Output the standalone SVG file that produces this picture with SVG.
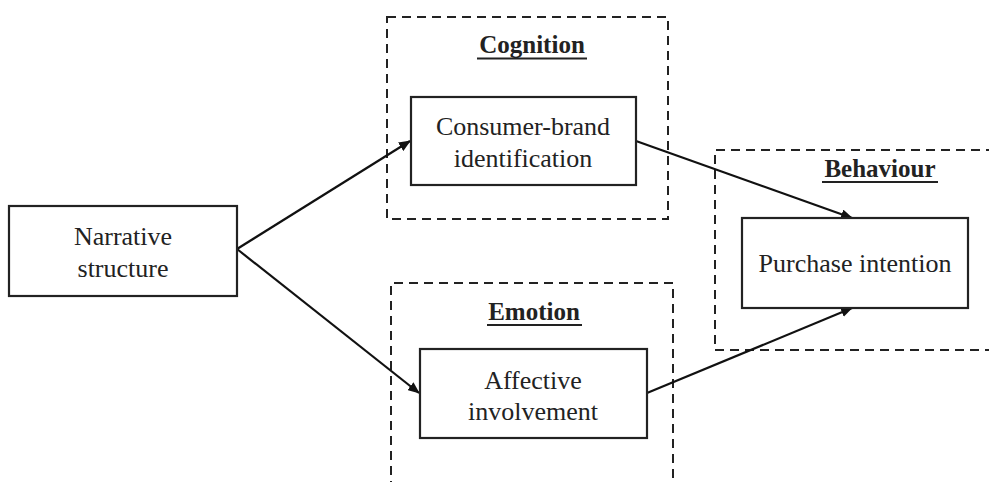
<svg xmlns="http://www.w3.org/2000/svg" width="989" height="482" viewBox="0 0 989 482">
<style>
.bg{fill:#fff}
.grp{fill:none;stroke:#222;stroke-width:2;stroke-dasharray:9,6}
.box{fill:#fff;stroke:#222;stroke-width:2.2}
.t{font-family:"Liberation Serif","Times New Roman",serif;font-size:26px;fill:#222;text-anchor:middle}
.h{font-family:"Liberation Serif","Times New Roman",serif;font-size:25px;font-weight:bold;fill:#222;text-anchor:middle}
.ul{stroke:#222;stroke-width:1.8}
.c{fill:none;stroke:#111;stroke-width:2.2;marker-end:url(#ah)}
</style>
<defs>
<marker id="ah" viewBox="0 0 12 10" refX="11" refY="5" markerWidth="12" markerHeight="10" markerUnits="userSpaceOnUse" orient="auto">
<path d="M0,0 L12,5 L0,10 z" fill="#111"/>
</marker>
</defs>
<rect class="bg" x="0" y="0" width="989" height="482"/>
<g id="cognition">
<rect class="grp" x="387" y="17" width="281" height="202"/>
<text class="h" x="532" y="53">Cognition</text>
<line class="ul" x1="477" y1="58.5" x2="587" y2="58.5"/>
</g>
<g id="behaviour">
<path class="grp" d="M995,150 L715,150 L715,350 L995,350"/>
<text class="h" x="880" y="177">Behaviour</text>
<line class="ul" x1="822" y1="182" x2="938" y2="182"/>
</g>
<g id="emotion">
<path class="grp" d="M391,490 L391,283 L673,283 L673,490"/>
<text class="h" x="534" y="320">Emotion</text>
<line class="ul" x1="487" y1="325" x2="582" y2="325"/>
</g>
<g id="connectors">
<line class="c" x1="237" y1="249" x2="410" y2="141"/>
<line class="c" x1="237" y1="249" x2="419" y2="393"/>
<line class="c" x1="636" y1="141" x2="852" y2="218"/>
<line class="c" x1="647" y1="393" x2="852" y2="308"/>
</g>
<g id="narrative">
<rect class="box" x="9" y="206" width="228" height="90"/>
<text class="t" x="123" y="245">Narrative</text>
<text class="t" x="123" y="277">structure</text>
</g>
<g id="consumer-brand">
<rect class="box" x="411" y="97" width="225" height="88"/>
<text class="t" x="523" y="135">Consumer-brand</text>
<text class="t" x="523" y="167">identification</text>
</g>
<g id="affective">
<rect class="box" x="420" y="349" width="227" height="89"/>
<text class="t" x="533" y="389">Affective</text>
<text class="t" x="533" y="420">involvement</text>
</g>
<g id="purchase">
<rect class="box" x="742" y="218" width="226" height="90"/>
<text class="t" x="855" y="272">Purchase intention</text>
</g>
</svg>
